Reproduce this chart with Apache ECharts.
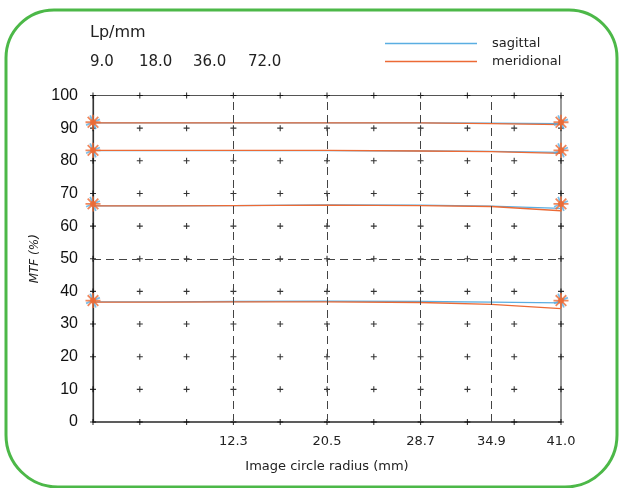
<!DOCTYPE html>
<html><head><meta charset="utf-8">
<script src="https://cdn.jsdelivr.net/npm/echarts@6/dist/echarts.min.js"></script>
<style>html,body{margin:0;padding:0;background:#fff}#c{width:620px;height:488px}</style>
</head><body><div id="c"></div>
<script>
// ---- data ----
const radius = [0, 6.15, 12.3, 20.5, 28.7, 34.9, 41];
const freqLabels = ['9.0', '18.0', '36.0', '72.0'];
const sag9  = [91.6, 91.6, 91.6, 91.6, 91.6, 91.5, 91.4];
const mer9  = [91.6, 91.6, 91.6, 91.6, 91.6, 91.4, 91.1];
const sag18 = [83.1, 83.1, 83.1, 83.1, 83.0, 82.9, 82.6];
const mer18 = [83.2, 83.2, 83.2, 83.2, 83.0, 82.8, 82.3];
const sag36 = [66.2, 66.2, 66.3, 66.5, 66.4, 66.1, 65.4];
const mer36 = [66.2, 66.2, 66.3, 66.4, 66.3, 66.0, 64.7];
const sag72 = [36.8, 36.8, 36.9, 37.0, 36.9, 36.7, 36.5];
const mer72 = [36.7, 36.7, 36.8, 36.8, 36.6, 36.0, 34.7];
const markerRadius = [0, 41];
const markerValues = [91.8, 83.2, 66.8, 37.2];
const xTickLabels = [12.3, 20.5, 28.7, 34.9, 41.0];
const xDashed = [12.3, 20.5, 28.7, 34.9];
const yDashed = [50];
const gridX = [0, 4.1, 8.2, 12.3, 16.4, 20.5, 24.6, 28.7, 32.8, 36.9, 41.0];
const gridY = [0, 10, 20, 30, 40, 50, 60, 70, 80, 90, 100];

// ---- styles ----
const BLUE = '#5aaee2', ORANGE = '#ec6a35';
const FONT = 'DejaVu Sans';
const crossPath = 'path://M-0.9,-5H0.9V-0.9H5V0.9H0.9V5H-0.9V0.9H-5V-0.9H-0.9Z';
const starPath = 'path://M-1.2,-10H1.2V-1.2H10V1.2H1.2V10H-1.2V1.2H-10V-1.2H-1.2Z';

const zip = (xs, ys) => xs.map((x, i) => [x, ys[i]]);
const gridPts = [];
gridX.forEach(x => gridY.forEach(y => gridPts.push([x, y])));
const markerPts = [];
markerRadius.forEach(x => markerValues.forEach(y => markerPts.push([x, y])));

const lineSeries = (name, vals, color) => ({
  name, type: 'line', data: zip(radius, vals), symbol: 'none', silent: true,
  lineStyle: { color, width: 1.3 }, itemStyle: { color }, z: name === 'meridional' ? 4 : 3
});

const chart = echarts.init(document.getElementById('c'));
chart.setOption({
  animation: false,
  backgroundColor: '#fff',
  grid: { left: 93, right: 59, top: 95.5, bottom: 66, show: true, borderColor: '#555', borderWidth: 1.2 },
  legend: {
    data: ['sagittal', 'meridional'], orient: 'vertical', left: 380, top: 32,
    icon: 'rect', itemWidth: 92, itemHeight: 1.5, itemGap: 5,
    textStyle: { fontFamily: FONT, fontSize: 13, color: '#222', padding: [0, 0, 0, 10] }
  },
  xAxis: {
    type: 'value', min: 0, max: 41,
    name: 'Image circle radius (mm)', nameLocation: 'middle', nameGap: 38,
    nameTextStyle: { fontFamily: FONT, fontSize: 13, color: '#222' },
    axisLine: { lineStyle: { color: '#444', width: 1.5 } },
    axisTick: { show: false },
    splitLine: { show: false },
    axisLabel: { customValues: xTickLabels, formatter: v => v.toFixed(1), fontFamily: FONT, fontSize: 13, color: '#222', margin: 13 }
  },
  yAxis: {
    type: 'value', min: 0, max: 100, interval: 10,
    name: 'MTF (%)', nameLocation: 'middle', nameGap: 37,
    nameTextStyle: { fontFamily: FONT, fontSize: 12, color: '#222', fontStyle: 'italic' },
    axisLine: { show: true, lineStyle: { color: '#333', width: 1.2 } },
    axisTick: { show: false },
    splitLine: { show: false },
    axisLabel: { fontFamily: 'Liberation Sans', fontSize: 16, color: '#111', margin: 15 }
  },
  graphic: [
    { type: 'rect', silent: true, shape: { x: 6, y: 10, width: 611, height: 477, r: [48, 48, 52, 52] },
      style: { fill: 'none', stroke: '#4cb848', lineWidth: 3 } },
    { type: 'text', left: 90, top: 25, style: { text: 'Lp/mm', font: '16px "DejaVu Sans"', fill: '#222' } },
    ...freqLabels.map((t, i) => ({ type: 'text', left: [90, 139, 193, 248][i], top: 55,
      style: { text: t, font: '15px "DejaVu Sans"', fill: '#222' } }))
  ],
  series: [
    {
      type: 'scatter', name: 'grid', data: gridPts, symbol: crossPath, symbolSize: 6,
      itemStyle: { color: '#000' }, silent: true, z: 1,
      markLine: {
        silent: true, symbol: 'none', label: { show: false },
        lineStyle: { color: '#444', type: [8, 5], width: 1 },
        data: [...xDashed.map(v => ({ xAxis: v })), ...yDashed.map(v => ({ yAxis: v }))]
      }
    },
    lineSeries('sagittal', sag9, BLUE),
    lineSeries('meridional', mer9, ORANGE),
    lineSeries('sagittal', sag18, BLUE),
    lineSeries('meridional', mer18, ORANGE),
    lineSeries('sagittal', sag36, BLUE),
    lineSeries('meridional', mer36, ORANGE),
    lineSeries('sagittal', sag72, BLUE),
    lineSeries('meridional', mer72, ORANGE),
    { type: 'scatter', data: markerPts, symbol: starPath, symbolSize: 15, symbolRotate: 22.5,
      itemStyle: { color: BLUE }, silent: true, z: 5 },
    { type: 'scatter', data: markerPts, symbol: starPath, symbolSize: 15, symbolRotate: 0,
      itemStyle: { color: ORANGE }, silent: true, z: 6 },
    { type: 'scatter', data: markerPts, symbol: starPath, symbolSize: 15, symbolRotate: 45,
      itemStyle: { color: ORANGE }, silent: true, z: 6 },
    { type: 'scatter', data: markerPts, symbol: 'circle', symbolSize: 6,
      itemStyle: { color: ORANGE }, silent: true, z: 7 }
  ]
});
</script></body></html>
